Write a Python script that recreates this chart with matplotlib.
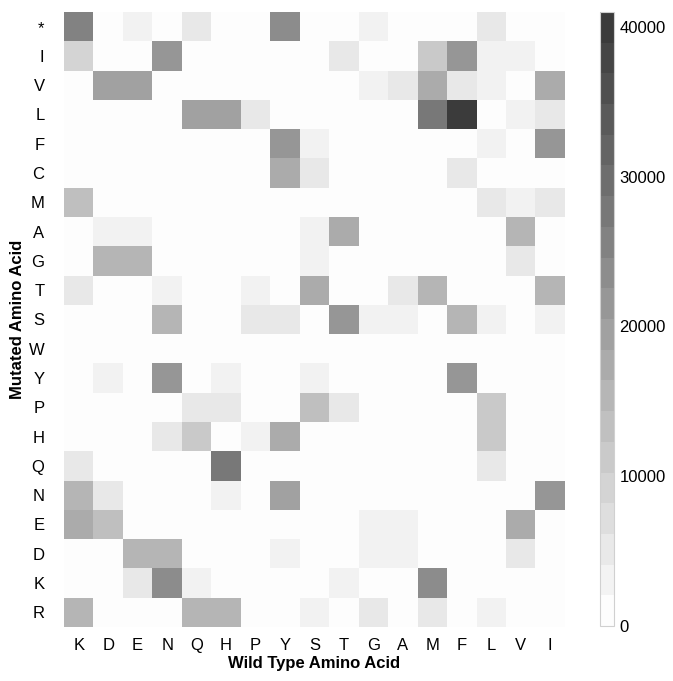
from matplotlib import pyplot as plt
from matplotlib.colors import LinearSegmentedColormap
import numpy as np

plt.rcParams['font.family'] = ['Liberation Sans', 'DejaVu Sans']

wild_type = ["K", "D", "E", "N", "Q", "H", "P", "Y", "S", "T", "G", "A", "M", "F", "L", "V", "I"]
mutated = ["*", "I", "V", "L", "F", "C", "M", "A", "G", "T", "S", "W", "Y", "P", "H", "Q", "N", "E", "D", "K", "R"]

# counts, one row per mutated amino acid, columns follow wild_type
row_stop = [25000, 0, 3000, 0, 5000, 0, 0, 24000, 1000, 500, 2500, 0, 0, 0, 5000, 0, 0]
row_I = [10000, 0, 0, 21000, 0, 0, 0, 0, 500, 5000, 0, 0, 12000, 22000, 2500, 2500, 0]
row_V = [0, 20000, 20000, 0, 0, 0, 0, 0, 0, 0, 3000, 6000, 17000, 5000, 2500, 0, 17000]
row_L = [0, 0, 0, 0, 20000, 20000, 5000, 0, 1000, 0, 0, 0, 27000, 41000, 0, 3000, 4500]
row_F = [0, 0, 0, 0, 0, 0, 0, 22000, 2500, 0, 0, 0, 0, 0, 3500, 500, 22000]
row_C = [0, 0, 0, 0, 0, 0, 0, 17000, 5000, 0, 1000, 0, 0, 4500, 0, 0, 0]
row_M = [14000, 0, 0, 0, 0, 0, 0, 0, 0, 0, 0, 0, 0, 0, 6000, 4000, 4500]
row_A = [0, 3500, 3500, 0, 0, 0, 500, 0, 3000, 17000, 0, 0, 0, 0, 0, 16000, 0]
row_G = [0, 16000, 16000, 0, 0, 0, 0, 0, 3500, 0, 0, 500, 0, 0, 0, 4500, 0]
row_T = [4500, 0, 0, 3500, 0, 0, 3000, 0, 17000, 0, 0, 6000, 16000, 0, 0, 0, 16000]
row_S = [0, 0, 0, 15000, 0, 0, 5000, 4500, 0, 21000, 2500, 3500, 0, 15000, 3000, 0, 4000]
row_W = [0, 0, 0, 0, 0, 0, 0, 0, 0, 0, 0, 0, 0, 0, 800, 0, 0]
row_Y = [0, 2500, 0, 21000, 0, 4000, 0, 0, 2200, 0, 0, 0, 0, 21000, 0, 0, 0]
row_P = [0, 0, 0, 0, 4500, 4500, 0, 0, 13000, 4500, 0, 700, 0, 0, 12000, 0, 0]
row_H = [0, 300, 0, 4500, 12000, 0, 3000, 18000, 0, 0, 0, 0, 0, 0, 11500, 0, 0]
row_Q = [4500, 0, 300, 0, 0, 27000, 0, 0, 0, 500, 0, 0, 0, 0, 5000, 0, 0]
row_N = [14500, 5000, 0, 0, 0, 2500, 0, 20000, 1000, 1000, 0, 0, 0, 0, 0, 0, 21000]
row_E = [16500, 13500, 0, 0, 300, 0, 0, 0, 0, 0, 2500, 2200, 0, 0, 0, 17000, 0]
row_D = [0, 0, 15000, 15000, 0, 500, 0, 4000, 0, 0, 2500, 2200, 0, 0, 0, 4500, 0]
row_K = [0, 0, 4500, 23000, 3000, 0, 0, 0, 0, 2200, 0, 0, 23000, 0, 0, 0, 0]
row_R = [15000, 0, 0, 0, 15000, 15000, 300, 0, 2500, 0, 4500, 0, 4500, 0, 3500, 0, 0]

counts = np.array([row_stop, row_I, row_V, row_L, row_F, row_C, row_M, row_A, row_G,
                   row_T, row_S, row_W, row_Y, row_P, row_H, row_Q, row_N, row_E,
                   row_D, row_K, row_R])

cmap = LinearSegmentedColormap.from_list("grey_steps", ["#fdfdfd", "#3b3b3b"], N=20)

fig = plt.figure(figsize=(6.73, 6.81), dpi=100)
ax = fig.add_axes([64 / 673, 54 / 681, 501 / 673, 615 / 681])
cax = fig.add_axes([600 / 673, 55 / 681, 14 / 673, 614 / 681])

im = ax.imshow(counts, cmap=cmap, vmin=0, vmax=41000, aspect="auto",
               interpolation="nearest")
ax.set_xticks(range(len(wild_type)))
ax.set_xticklabels(wild_type, fontsize=12)
ax.set_yticks(range(len(mutated)))
ax.set_yticklabels(mutated, fontsize=12)
ax.tick_params(axis="x", length=0, pad=8)
ax.tick_params(axis="y", length=0, pad=14)
for s in ax.spines.values():
    s.set_visible(False)
ax.set_xlabel("Wild Type Amino Acid", fontsize=12, fontweight="bold", labelpad=2)
ax.set_ylabel("Mutated Amino Acid", fontsize=12, fontweight="bold", labelpad=3)

cb = fig.colorbar(im, cax=cax, ticks=[0, 10000, 20000, 30000, 40000])
cb.ax.tick_params(length=0, labelsize=12, pad=4)
cb.outline.set_edgecolor("#d0d0d0")
cb.outline.set_linewidth(0.8)

plt.savefig("out.png", dpi=100)
plt.close()
